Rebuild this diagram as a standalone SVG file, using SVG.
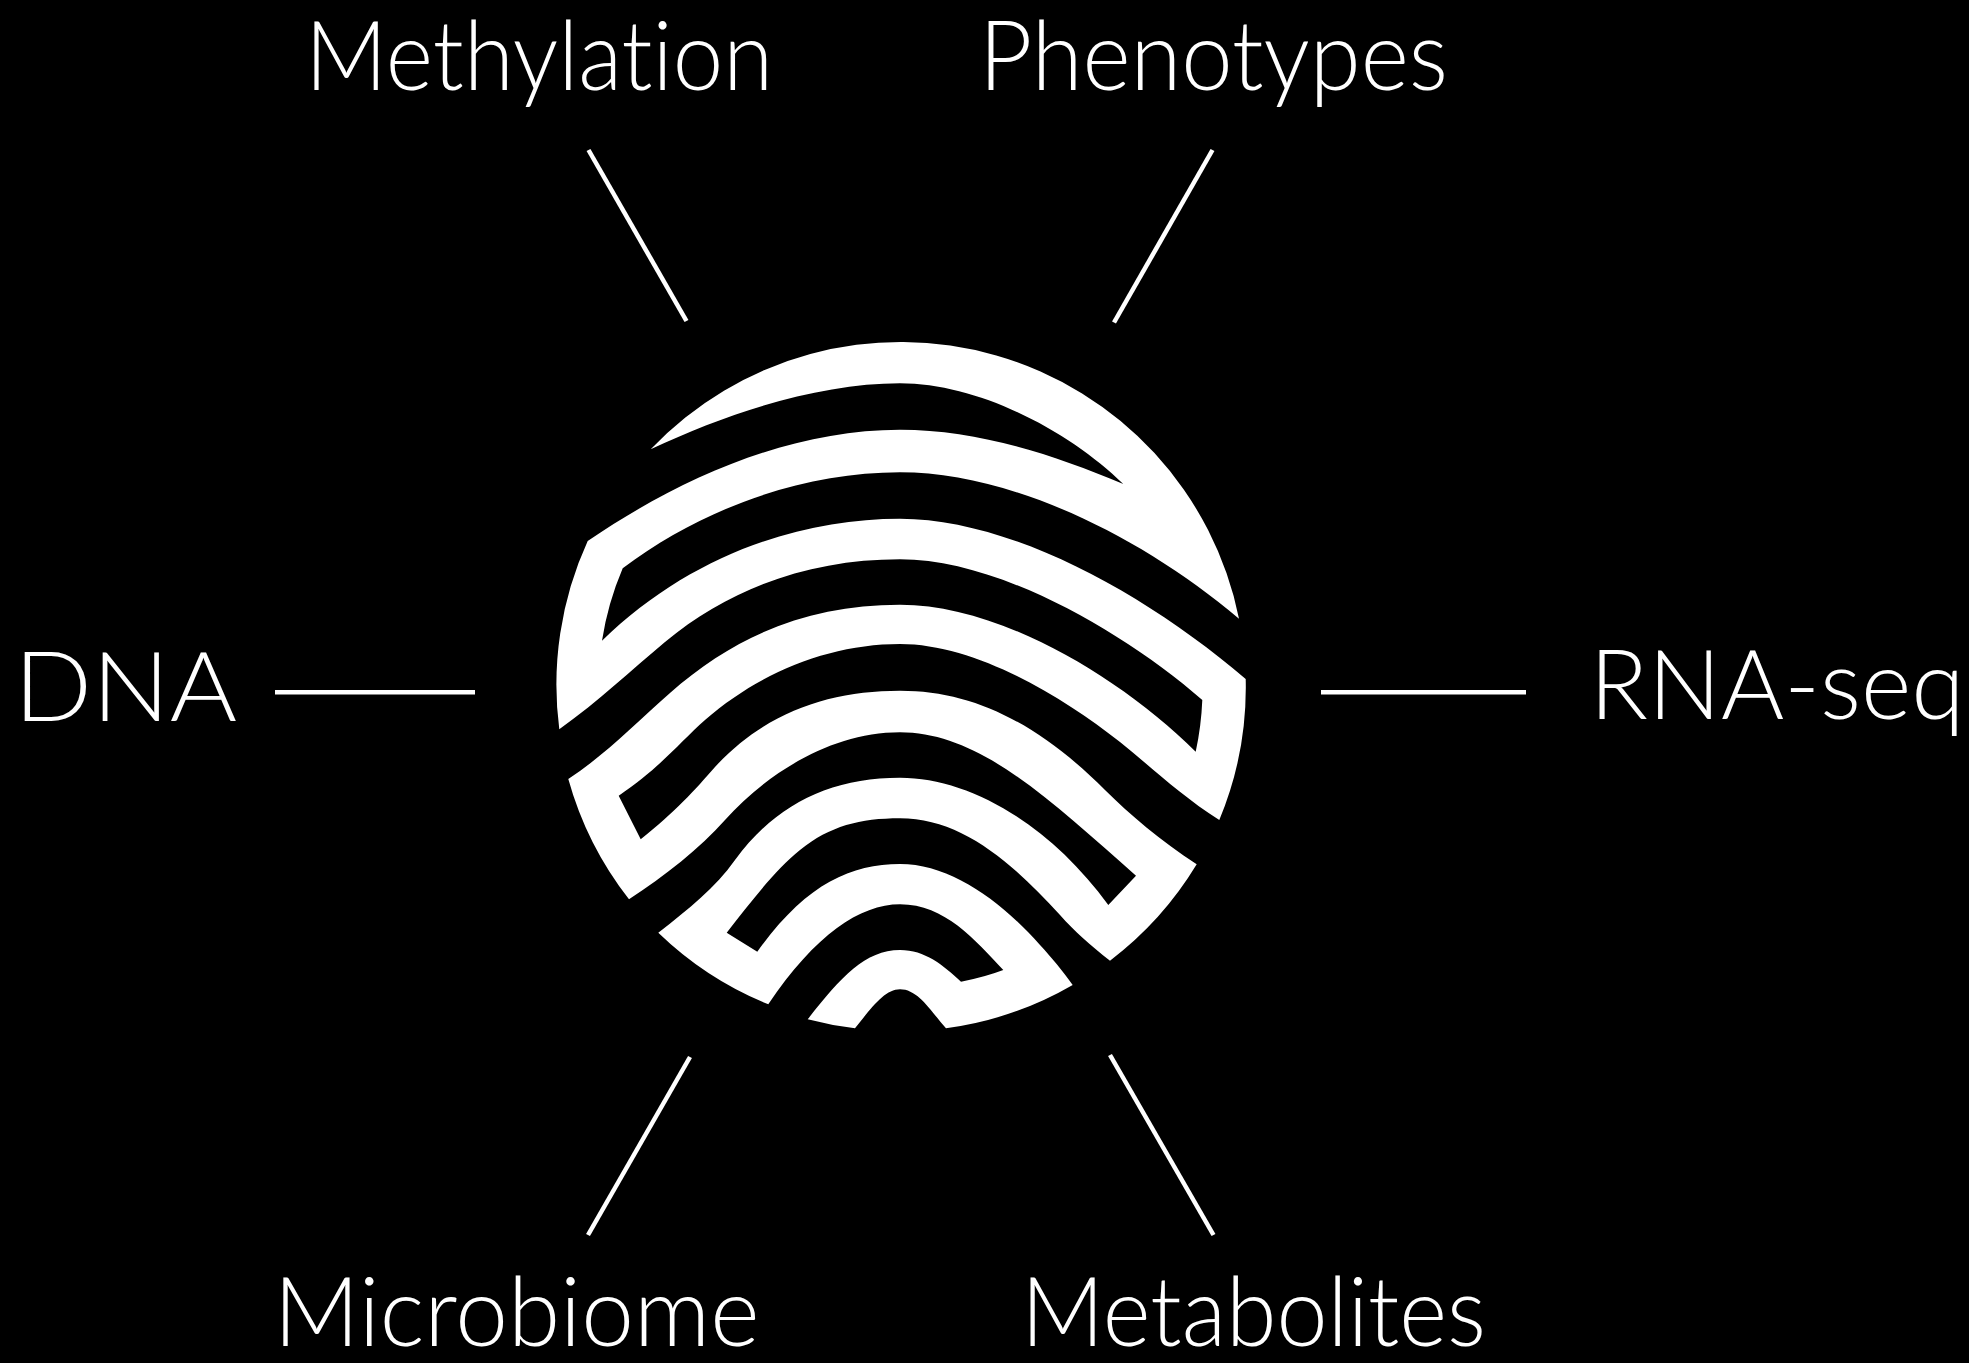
<svg xmlns="http://www.w3.org/2000/svg" width="1969" height="1363" viewBox="0 0 1969 1363">
<style>
.bg{fill:#000}
.ribbon{fill:#fff}
.lbl{fill:#fff;font-family:"Lato","Open Sans","Liberation Sans",sans-serif;font-weight:300;font-size:96px;font-variant-ligatures:none}
.conn line{stroke:#fff;stroke-width:4.5;fill:none}
</style>
<rect class="bg" width="1969" height="1363"/>
<g id="connectors" class="conn">
<line x1="588.5" y1="150" x2="686.5" y2="321"/>
<line x1="1212.5" y1="150" x2="1114" y2="322.5"/>
<line x1="275" y1="692.3" x2="475" y2="692.3"/>
<line x1="1321" y1="692.3" x2="1526" y2="692.3"/>
<line x1="690" y1="1057" x2="588" y2="1235"/>
<line x1="1110" y1="1055" x2="1213.5" y2="1235"/>
</g>
<g id="node-fingerprint">
<path class="ribbon" d="M650.7 449.3 A345 345 0 0 1 1239 618.7
C1140 535 1010 472.3 900 472.3 C800 472.3 700 510 622.7 568.3
A303 303 0 0 0 602 640.7
C690 555 800 518.7 900 518.7 C1010 518.7 1145 593 1245.7 679
A345 345 0 0 1 1219.3 820
C1180 795 1150 766 1120 742 C1060 695 975 644 900 644 C830 644 760 672 705 720 C680 742 660 768 618.7 795.7
L640.7 839.3
C675 812 695 790 715 767 C765 712 830 690.7 900 690.7 C975 690.7 1040 725 1105 790 C1130 815 1160 840 1196.7 864.3
A345 345 0 0 1 1110 960.7
C1090 945 1075 932 1060 915 C1010 860 960 818.3 900 818.3 C860 818.3 830 826 800 850 C775 870 750 903 726.7 932.7
L757.3 951.7
C805 885 850 864 900 864 C950 864 1000 900 1040 945 C1052 958 1062 970 1072.7 985
A345 345 0 0 1 946 1028.3
C930 1010 918 989.3 900 989.3 C885 989.3 872 1007 855 1028.3
A345 345 0 0 1 807.7 1019.3
C840 978 865 950 900 950 C925 950 943 965 961 981.7
Q985 977 1003.3 970
C975 940 945 904.3 900 904.3 C860 904.3 815 935 768.3 1004.3
A345 345 0 0 1 658.3 932.7
C690 908 715 888 735 860 C775 805 830 777.7 900 777.7 C970 777.7 1050 825 1108.3 905
L1136 875.7
C1050 800 980 732.3 900 732.3 C830 732.3 765 775 725 820 C700 848 665 876 629 899.3
A345 345 0 0 1 568.3 779
C605 755 635 724 670 693 C735 635 810 604.7 900 604.7 C1000 604.7 1120 677 1195.7 751.7
A301 301 0 0 0 1202.3 700
C1125 633 1000 559.3 900 559.3 C810 559.3 730 588 665 642 C630 671 600 700 559.3 729.3
A345 345 0 0 1 587.7 541
C680 478 790 429.7 900 429.7 C975 429.7 1050 453 1123.3 484
C1070 432 980 383.3 900 383.3 C820 383.3 730 412 650.7 449.3 Z"/>
</g>
<g id="node-methylation"><text class="lbl" x="305" y="90" textLength="468" lengthAdjust="spacingAndGlyphs">Methylation</text></g>
<g id="node-phenotypes"><text class="lbl" x="979" y="90" textLength="469" lengthAdjust="spacingAndGlyphs">Phenotypes</text></g>
<g id="node-dna"><text class="lbl" x="14" y="721" textLength="223" lengthAdjust="spacingAndGlyphs">DNA</text></g>
<g id="node-rnaseq"><text class="lbl" x="1589.5" y="719" textLength="375" lengthAdjust="spacingAndGlyphs">RNA-seq</text></g>
<g id="node-microbiome"><text class="lbl" x="273.5" y="1345.5" textLength="486" lengthAdjust="spacingAndGlyphs">Microbiome</text></g>
<g id="node-metabolites"><text class="lbl" x="1021" y="1345.5" textLength="465" lengthAdjust="spacingAndGlyphs">Metabolites</text></g>
</svg>
